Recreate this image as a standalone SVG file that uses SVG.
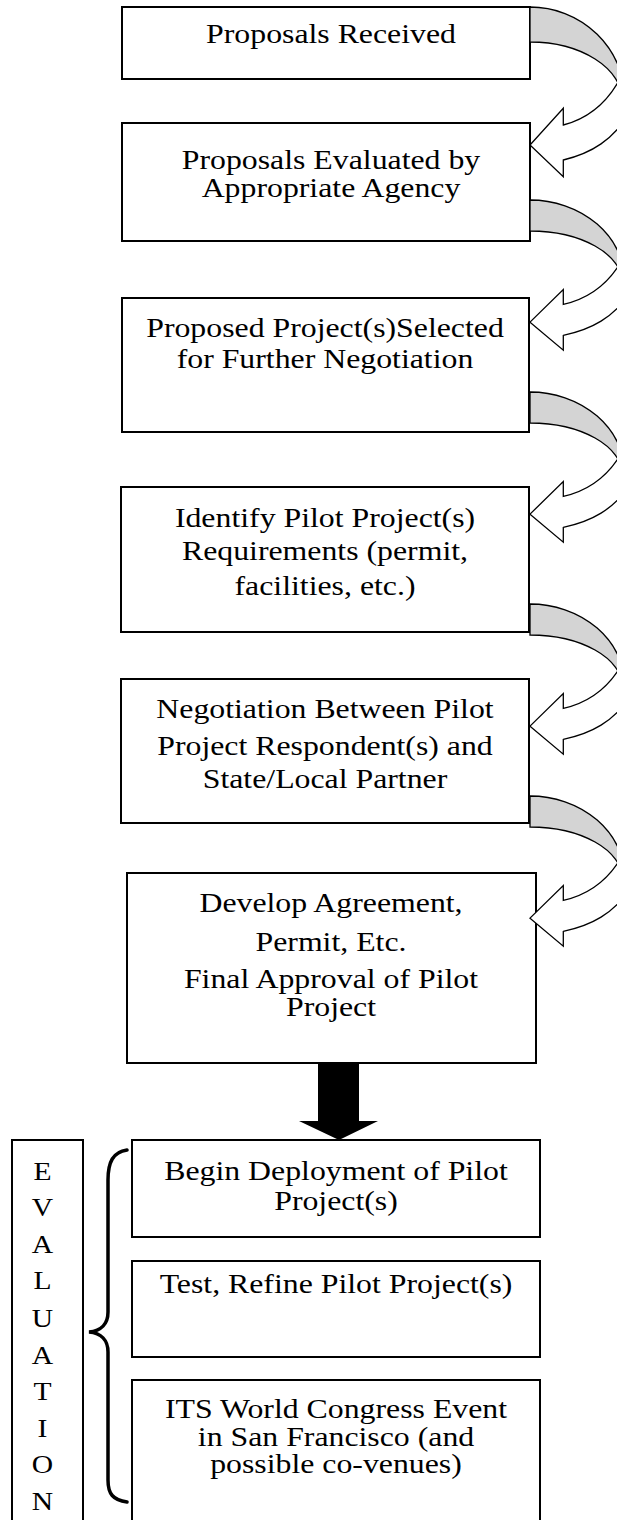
<svg xmlns="http://www.w3.org/2000/svg" xmlns:xlink="http://www.w3.org/1999/xlink" width="617" height="1520" viewBox="0 0 617 1520">
<style>
.box{fill:#fff;stroke:#000;stroke-width:2}
.t{font-family:"Liberation Serif","Times New Roman",serif;font-size:26.5px;fill:#000;text-anchor:middle}
.ev{font-family:"Liberation Serif","Times New Roman",serif;font-size:25.5px;fill:#000;text-anchor:middle}
.back{fill:#d4d4d4;stroke:#000;stroke-width:1.3;stroke-linejoin:miter;vector-effect:non-scaling-stroke}
.front{fill:#fff;stroke:#000;stroke-width:1.3;stroke-linejoin:miter;vector-effect:non-scaling-stroke}
.brace{fill:none;stroke:#000;stroke-width:3.5;stroke-linecap:round}
</style>
<defs>
<g id="curl">
<path class="back" d="M0,0 A95,93 0 0 1 95,93 L92,93 A92,58 0 0 0 0,35 Z"/>
<path class="front" d="M96,59 C82,93 60,111 33.3,118 L33.3,101.3 L0,138 L33.3,169.7 L33.3,153 C62,146 83,133 100,105 Z"/>
</g>
</defs>
<rect width="617" height="1520" fill="#fff"/>

<g id="n1">
<rect class="box" x="122" y="7" width="408" height="72"/>
<text class="t" transform="translate(331 0) scale(1.2 1)"><tspan x="0" y="43">Proposals Received</tspan></text>
</g>
<g id="n2">
<rect class="box" x="122" y="123" width="408" height="118"/>
<text class="t" transform="translate(331 0) scale(1.2 1)"><tspan x="0" y="169">Proposals Evaluated by</tspan><tspan x="0" y="197">Appropriate Agency</tspan></text>
</g>
<g id="n3">
<rect class="box" x="122" y="298" width="407" height="134"/>
<text class="t" transform="translate(325 0) scale(1.2 1)"><tspan x="0" y="337">Proposed Project(s)Selected</tspan><tspan x="0" y="368">for Further Negotiation</tspan></text>
</g>
<g id="n4">
<rect class="box" x="121" y="487" width="408" height="145"/>
<text class="t" transform="translate(325 0) scale(1.2 1)"><tspan x="0" y="527">Identify Pilot Project(s)</tspan><tspan x="0" y="560">Requirements (permit,</tspan><tspan x="0" y="595">facilities, etc.)</tspan></text>
</g>
<g id="n5">
<rect class="box" x="121" y="679" width="408" height="144"/>
<text class="t" transform="translate(325 0) scale(1.2 1)"><tspan x="0" y="718">Negotiation Between Pilot</tspan><tspan x="0" y="755">Project Respondent(s) and</tspan><tspan x="0" y="788">State/Local Partner</tspan></text>
</g>
<g id="n6">
<rect class="box" x="127" y="873" width="409" height="190"/>
<text class="t" transform="translate(331 0) scale(1.2 1)"><tspan x="0" y="912">Develop Agreement,</tspan><tspan x="0" y="951">Permit, Etc.</tspan><tspan x="0" y="988">Final Approval of Pilot</tspan><tspan x="0" y="1016">Project</tspan></text>
</g>
<g id="n7">
<rect class="box" x="132" y="1140" width="408" height="97"/>
<text class="t" transform="translate(336 0) scale(1.2 1)"><tspan x="0" y="1180">Begin Deployment of Pilot</tspan><tspan x="0" y="1210">Project(s)</tspan></text>
</g>
<g id="n8">
<rect class="box" x="132" y="1261" width="408" height="96"/>
<text class="t" transform="translate(336 0) scale(1.2 1)"><tspan x="0" y="1293">Test, Refine Pilot Project(s)</tspan></text>
</g>
<g id="n9">
<rect class="box" x="132" y="1380" width="408" height="160"/>
<text class="t" transform="translate(336 0) scale(1.2 1)"><tspan x="0" y="1418">ITS World Congress Event</tspan><tspan x="0" y="1446">in San Francisco (and</tspan><tspan x="0" y="1473">possible co-venues)</tspan></text>
</g>
<g id="evaluation">
<rect class="box" x="12" y="1140" width="71" height="400"/>
<text class="ev" transform="translate(42.5 0) scale(1.16 1)"><tspan x="0" y="1180">E</tspan><tspan x="0" y="1216">V</tspan><tspan x="0" y="1253">A</tspan><tspan x="0" y="1289">L</tspan><tspan x="0" y="1327">U</tspan><tspan x="0" y="1364">A</tspan><tspan x="0" y="1400">T</tspan><tspan x="0" y="1437">I</tspan><tspan x="0" y="1473">O</tspan><tspan x="0" y="1510">N</tspan></text>
</g>

<g id="connectors">
<use xlink:href="#curl" transform="translate(530 7)"/>
<use xlink:href="#curl" transform="translate(530 200) scale(1 0.885)"/>
<use xlink:href="#curl" transform="translate(530 392) scale(1 0.885)"/>
<use xlink:href="#curl" transform="translate(530 604) scale(1 0.885)"/>
<use xlink:href="#curl" transform="translate(530 796) scale(1 0.885)"/>
<path d="M318,1063 L359,1063 L359,1121 L378,1121 L339,1140 L299,1121 L318,1121 Z" fill="#000"/>
</g>
<g id="brace">
<path class="brace" d="M127,1150 C113,1152 108,1162 108,1180 L108,1312 C108,1324 101,1331 89,1332 C101,1333 108,1340 108,1352 L108,1480 C108,1494 113,1500 127,1502"/>
</g>
</svg>
